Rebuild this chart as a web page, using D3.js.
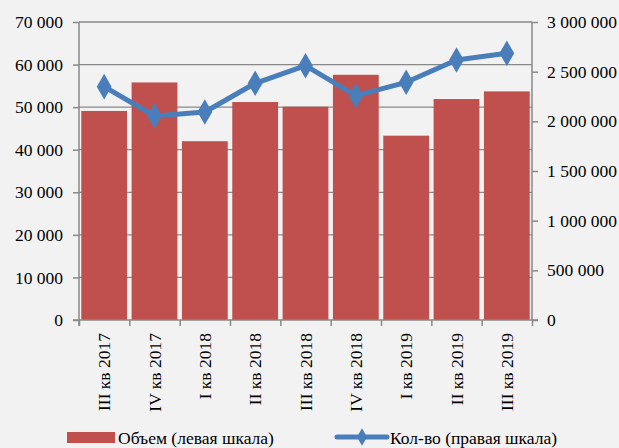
<!DOCTYPE html>
<html><head><meta charset="utf-8">
<script src="https://cdn.jsdelivr.net/npm/d3@7"></script>
<style>body{margin:0;background:#f2f2f2}svg{display:block}
svg text{font-family:"Liberation Serif","Times New Roman","DejaVu Serif",serif !important;font-size:17.5px;fill:#000}</style>
</head><body><svg id="c" width="619" height="448"></svg>
<script>
const categories = ["III кв 2017","IV кв 2017","I кв 2018","II кв 2018","III кв 2018","IV кв 2018","I кв 2019","II кв 2019","III кв 2019"];
const volume = [49100, 55800, 42000, 51200, 50100, 57600, 43300, 51900, 53700];
const count = [2349000, 2054000, 2094000, 2383000, 2560000, 2258000, 2393000, 2617000, 2685000];
const leftTicks = [0,10000,20000,30000,40000,50000,60000,70000];
const rightTicks = [0,500000,1000000,1500000,2000000,2500000,3000000];
const seriesNames = ["Объем (левая шкала)","Кол-во (правая шкала)"];

const svg = d3.select("#c");
const L = 79, R = 532, T = 22, B = 320;
const fmt = v => d3.format(",")(v).replace(/,/g, " ");
const x = d3.scaleBand().domain(categories).range([L, R]).paddingInner(0.09).paddingOuter(0.045);
const yL = d3.scaleLinear().domain([0, 70000]).range([B, T]);
const yR = d3.scaleLinear().domain([0, 3000000]).range([B, T]);
const grey = "#898989";

svg.append("rect").attr("width",619).attr("height",448).attr("fill","#f2f2f2");
svg.append("g").selectAll("line").data(leftTicks.slice(1)).join("line")
  .attr("x1",L).attr("x2",R).attr("y1",d=>yL(d)).attr("y2",d=>yL(d))
  .attr("stroke",grey).attr("stroke-width",1.3);

svg.append("g").selectAll("rect").data(volume).join("rect")
  .attr("x",(d,i)=>x(categories[i])).attr("width",x.bandwidth())
  .attr("y",d=>yL(d)).attr("height",d=>B-yL(d)).attr("fill","#c0504d");

const axL = svg.append("g").attr("transform",`translate(${L},0)`)
  .call(d3.axisLeft(yL).tickValues(leftTicks).tickFormat(fmt).tickSize(6).tickPadding(10));
const axR = svg.append("g").attr("transform",`translate(${R},0)`)
  .call(d3.axisRight(yR).tickValues(rightTicks).tickFormat(fmt).tickSize(6).tickPadding(9));
const xb = d3.scaleLinear().domain([0, categories.length]).range([L, R]);
const axB = svg.append("g").attr("transform",`translate(0,${B})`)
  .call(d3.axisBottom(xb).tickValues(d3.range(categories.length+1)).tickFormat("").tickSize(6));
[axL, axR, axB].forEach(a=>{
  a.attr("font-family",null).attr("font-size",null);
  a.selectAll("path").attr("stroke",grey).attr("stroke-width",1.5);
  a.selectAll("line").attr("stroke",grey).attr("stroke-width",1.5);
});
axL.select("path").attr("d",`M0,${B+6}V${T}`);
axR.select("path").attr("d",`M0,${B}V${T}`);
axB.select("path").attr("d",`M${L-6},0H${R+6}`);

svg.append("g").selectAll("text").data(categories).join("text")
  .attr("transform",d=>`translate(${x(d)+x.bandwidth()/2+6},${333}) rotate(-90)`)
  .attr("text-anchor","end").text(d=>d);

const blue = "#4a7ebb";
const line = d3.line().x((d,i)=>x(categories[i])+x.bandwidth()/2).y(d=>yR(d));
svg.append("path").datum(count).attr("d",line).attr("fill","none").attr("stroke",blue).attr("stroke-width",5).attr("stroke-linejoin","round");
const diamond = d3.symbol().type(d3.symbolDiamond).size(190);
svg.append("g").selectAll("path").data(count).join("path")
  .attr("transform",(d,i)=>`translate(${x(categories[i])+x.bandwidth()/2},${yR(d)})`)
  .attr("d",diamond).attr("fill",blue);

const lg = svg.append("g");
lg.append("rect").attr("x",67).attr("y",432).attr("width",48).attr("height",11).attr("fill","#c0504d");
lg.append("text").attr("x",118).attr("y",444).text(seriesNames[0]);
lg.append("line").attr("x1",337).attr("x2",387).attr("y1",437).attr("y2",437).attr("stroke",blue).attr("stroke-width",5).attr("stroke-linecap","round");
lg.append("path").attr("transform","translate(362,437)").attr("d",d3.symbol().type(d3.symbolDiamond).size(90)).attr("fill",blue);
lg.append("text").attr("x",390).attr("y",444).text(seriesNames[1]);
</script></body></html>
